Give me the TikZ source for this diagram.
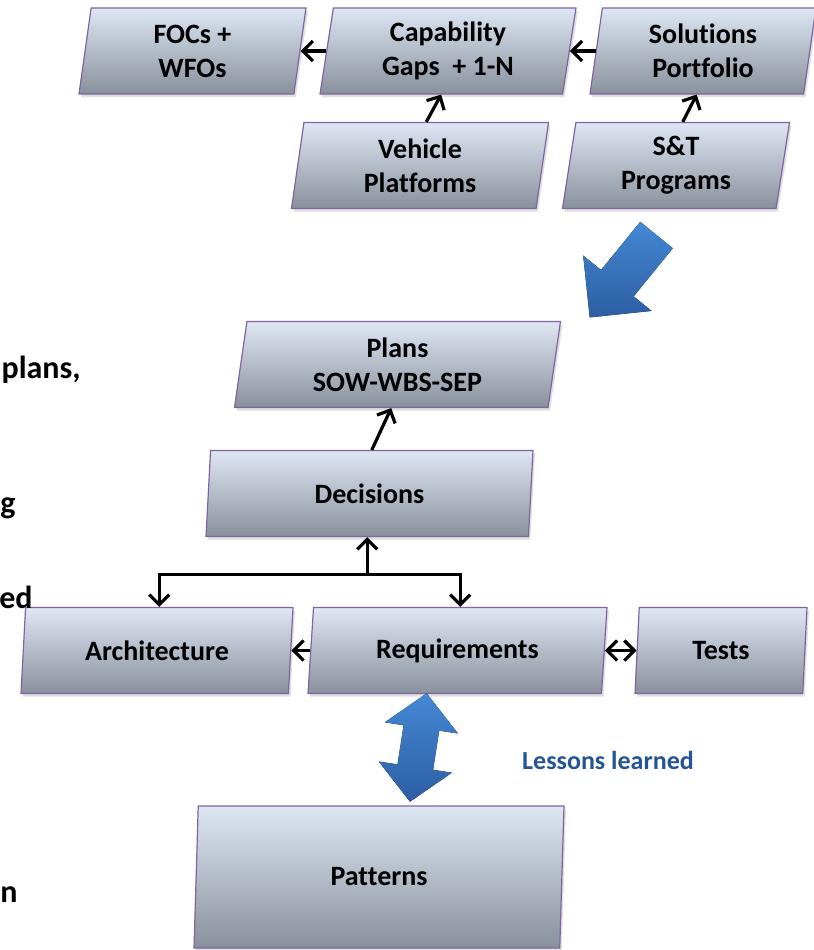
\documentclass[tikz,border=0pt]{standalone}
\usepackage{fontspec}
\setmainfont[Ligatures=NoCommon]{Carlito}
\usetikzlibrary{shapes.geometric,arrows.meta,calc,shadows}

\definecolor{boxtop}{RGB}{221,231,243}
\definecolor{boxbottom}{RGB}{136,144,155}
\definecolor{boxline}{RGB}{128,100,162}
\definecolor{bigtop}{RGB}{68,136,212}
\definecolor{bigbottom}{RGB}{45,94,163}
\definecolor{lessons}{RGB}{37,84,148}

\begin{document}
\begin{tikzpicture}[
  x=0.5pt, y=-0.5pt,
  pbox/.style={trapezium, trapezium left angle=77, trapezium right angle=103, trapezium stretches body,
    draw=boxline, line width=0.6pt, top color=boxtop, bottom color=boxbottom, inner sep=0pt,
    minimum height=43pt, align=center, font=\fontsize{14}{17}\selectfont\bfseries,
    drop shadow={shadow xshift=1pt, shadow yshift=-1.5pt, opacity=0.25}},
  arrow/.style={-{Straight Barb[length=5pt,width=10pt]}, line width=1.6pt},
  twoway/.style={{Straight Barb[length=5pt,width=10pt]}-{Straight Barb[length=5pt,width=10pt]}, line width=1.6pt},
  bigarrow/.style={top color=bigtop, bottom color=bigbottom, draw=none},
  cut/.style={inner sep=0pt, font=\fontsize{16}{19}\selectfont\bfseries}
]
  \useasboundingbox (0,0) rectangle (814,950);

  % Capability layer (top)
  \node[pbox, minimum width=113.5pt] (focs) at (192.5,51) {FOCs +\\WFOs};
  \node[pbox, minimum width=128pt] (gaps) at (448,51) {Capability\\Gaps~ + 1-N};
  \node[pbox, minimum width=113pt] (portfolio) at (703,51) {Solutions\\Portfolio};
  \node[pbox, minimum width=128.5pt] (vehicle) at (420,165.5) {Vehicle\\Platforms};
  \node[pbox, minimum width=113.5pt] (stprog) at (676,165.5) {S\&T\\Programs};

  % Planning layer (middle)
  \node[pbox, minimum width=163pt] (plans) at (397.5,364.5) {Plans\\SOW-WBS-SEP};
  \node[pbox, minimum width=163.5pt] (decisions) at (369.5,493.5) {Decisions};
  \node[pbox, minimum width=136pt] (arch) at (157,650.5) {Architecture};
  \node[pbox, minimum width=149.5pt] (req) at (457.5,650.5) {Requirements};
  \node[pbox, minimum width=86pt] (tests) at (721,650.5) {Tests};

  % Patterns (bottom)
  \node[pbox, minimum width=185pt, minimum height=71pt] (patterns) at (379,877) {Patterns};
  \node[anchor=center, inner sep=0pt, text=lessons, font=\fontsize{13}{16}\selectfont\bfseries] (lessons) at (608,760) {Lessons learned};

  % Text cut off at the left edge
  \node[cut, anchor=base east] (cuta) at (81,378) {plans,};
  \node[cut, anchor=base east] (cutb) at (16,513) {g};
  \node[cut, anchor=base east] (cutc) at (33,608) {ed};
  \node[cut, anchor=base west] (cutd) at (0,902) {n};

  % Arrows in the capability layer
  \draw[arrow] (gaps.left side) -- (focs.right side);
  \draw[arrow] (portfolio.left side) -- (gaps.right side);
  \draw[arrow] (vehicle.top side) -- (gaps.bottom side);
  \draw[arrow] (stprog.top side) -- (portfolio.bottom side);

  % Arrows in the planning layer
  \coordinate (fork) at ($(decisions.bottom side)+(0,37)$);
  \draw[arrow] (decisions.top side) -- (plans.bottom side);
  \draw[arrow] (fork) -- (decisions.bottom side);
  \draw[arrow] (fork) -| (arch.top side);
  \draw[arrow] (fork) -| (req.top side);
  \draw[arrow] (req.left side) -- (arch.right side);
  \draw[twoway] (req.right side) -- (tests.left side);

  % Block arrows
  \fill[bigarrow] (640.2,221.8) -- (672.8,248.2) -- (633.7,296.4) -- (651.6,310.9) -- (589.7,317.4)
    -- (583.2,255.5) -- (601.1,270.0) -- cycle;
  \fill[bigarrow] (426.7,693.3) -- (458.0,733.5) -- (439.2,730.6) -- (433.1,769.8) -- (451.9,772.7)
    -- (410.0,801.7) -- (378.7,761.5) -- (397.5,764.4) -- (403.6,725.2) -- (384.8,722.3) -- cycle;
\end{tikzpicture}
\end{document}
